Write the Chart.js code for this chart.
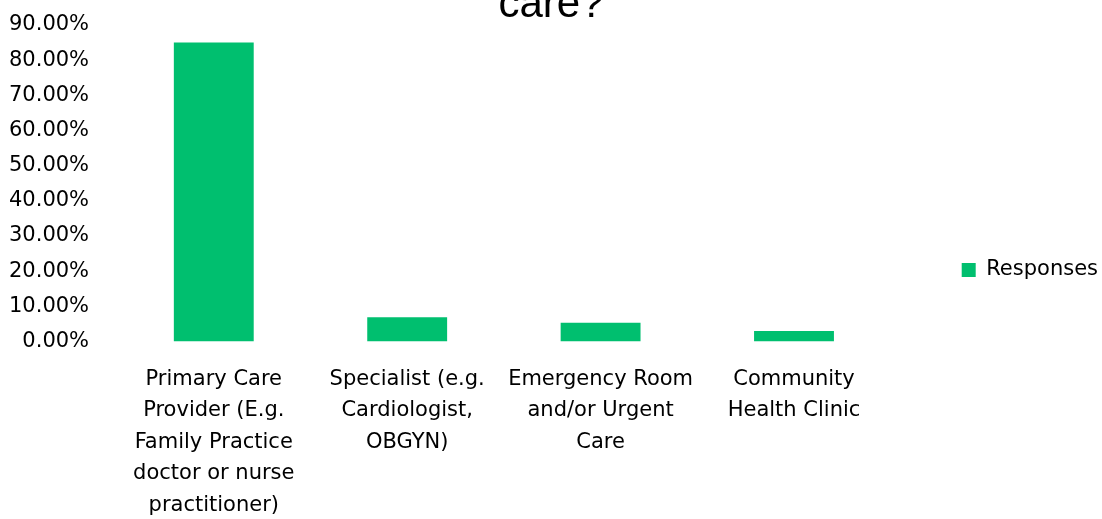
<!DOCTYPE html>
<html>
<head>
<meta charset="utf-8">
<script src="https://cdn.jsdelivr.net/npm/chart.js@4"></script>
<style>
  html,body{margin:0;padding:0;background:#fff;overflow:hidden}
  #wrap{width:1102px;height:519px;position:relative}
</style>
</head>
<body>
<div id="wrap"><canvas id="c" width="1102" height="519"></canvas></div>
<script>
const categories = [
  ['Primary Care', 'Provider (E.g.', 'Family Practice', 'doctor or nurse', 'practitioner)'],
  ['Specialist (e.g.', 'Cardiologist,', 'OBGYN)'],
  ['Emergency Room', 'and/or Urgent', 'Care'],
  ['Community', 'Health Clinic']
];
const responses = [85.0, 6.9, 5.3, 3.0];
const titleLines = ['care?'];
const barColor = '#00BF6F';
const font = 'DejaVu Sans';

// only the last line of the title shows at the top edge
const titlePlugin = {
  id: 'cutTitle',
  afterDraw(chart){
    const ctx = chart.ctx;
    ctx.save();
    ctx.font = '42px "Liberation Sans", Arial, sans-serif';
    ctx.fillStyle = '#000';
    ctx.textAlign = 'center';
    ctx.textBaseline = 'alphabetic';
    ctx.fillText(titleLines[titleLines.length-1], chart.width/2, 17);
    ctx.restore();
  }
};

new Chart(document.getElementById('c'), {
  type: 'bar',
  data: {
    labels: categories,
    datasets: [{
      label: 'Responses',
      data: responses,
      backgroundColor: barColor,
      borderWidth: 0,
      barPercentage: 0.413,
      categoryPercentage: 1
    }]
  },
  options: {
    responsive: false,
    animation: false,
    devicePixelRatio: 1,
    layout: { padding: { left: -19, top: -3, right: -6, bottom: -24 } },
    scales: {
      x: {
        grid: { display: false, drawTicks: false },
        border: { display: false },
        ticks: { color: '#000', padding: 22, maxRotation: 0, autoSkip: false,
                 font: { family: font, size: 21, lineHeight: 1.5 } }
      },
      y: {
        min: 0, max: 90,
        grid: { display: false, drawTicks: false },
        border: { display: false },
        // tick padding would otherwise push the plot top down
        afterFit: s => { s.paddingTop = 25; },
        ticks: { stepSize: 10, color: '#000', padding: 28,
                 font: { family: font, size: 21 },
                 callback: v => v.toFixed(2) + '%' }
      }
    },
    plugins: {
      legend: {
        position: 'right',
        maxHeight: 538,
        labels: { boxWidth: 14, boxHeight: 14, padding: 71, color: '#000',
                  font: { family: font, size: 21 } }
      },
      tooltip: { enabled: false }
    }
  },
  plugins: [titlePlugin]
});
</script>
</body>
</html>
